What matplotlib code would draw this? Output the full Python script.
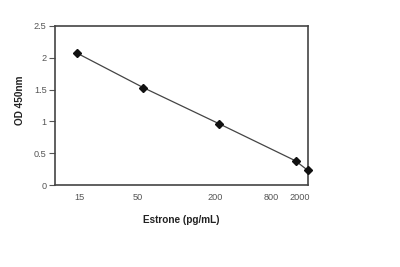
import numpy as np
import matplotlib
matplotlib.use("Agg")
import matplotlib.pyplot as plt
from matplotlib.ticker import NullLocator, FixedLocator, FixedFormatter

# standard curve values
conc = [15, 50, 200, 800, 1000]
od = [2.07, 1.53, 0.96, 0.38, 0.23]

# x tick labels as printed (they sit a bit off the points)
xtick_labels = ["15", "50", "200", "800", "2000"]
xtick_pos = [15.5, 45, 185, 510, 870]
yticks = [0, 0.5, 1, 1.5, 2, 2.5]
ytick_labels = ["0", "0.5", "1", "1.5", "2", "2.5"]

plt.rcParams["font.family"] = ["Liberation Sans", "DejaVu Sans"]

fig = plt.figure(figsize=(4, 2.67), dpi=100)
ax = fig.add_axes([0.1375, 0.307, 0.632, 0.596])

ax.plot(conc, od, color="#444444", linewidth=0.9, marker="D", markersize=4,
        markerfacecolor="#111111", markeredgecolor="#111111", clip_on=False, zorder=3)

ax.set_xscale("log")
ax.set_xlim(10, 1000)
ax.set_ylim(0, 2.5)

#Ticks and labels
ax.xaxis.set_major_locator(FixedLocator(xtick_pos))
ax.xaxis.set_major_formatter(FixedFormatter(xtick_labels))
ax.xaxis.set_minor_locator(NullLocator())
ax.set_yticks(yticks)
ax.set_yticklabels(ytick_labels)
ax.tick_params(axis="x", length=0, pad=6, labelsize=6.6, labelcolor="#555555")
ax.tick_params(axis="y", length=4, width=0.8, color="#555555", pad=2,
               labelsize=6.6, labelcolor="#555555")

for side in ["top", "right", "bottom", "left"]:
    ax.spines[side].set_color("#444444")
    ax.spines[side].set_linewidth(1.2)

ax.set_xlabel("Estrone (pg/mL)", fontsize=7.2, fontweight="bold", color="#222222", labelpad=9)
ax.set_ylabel("OD 450nm", fontsize=7.2, fontweight="bold", color="#222222")
ax.yaxis.set_label_coords(-0.12, 0.535)

fig.savefig("out.png", dpi=100)
